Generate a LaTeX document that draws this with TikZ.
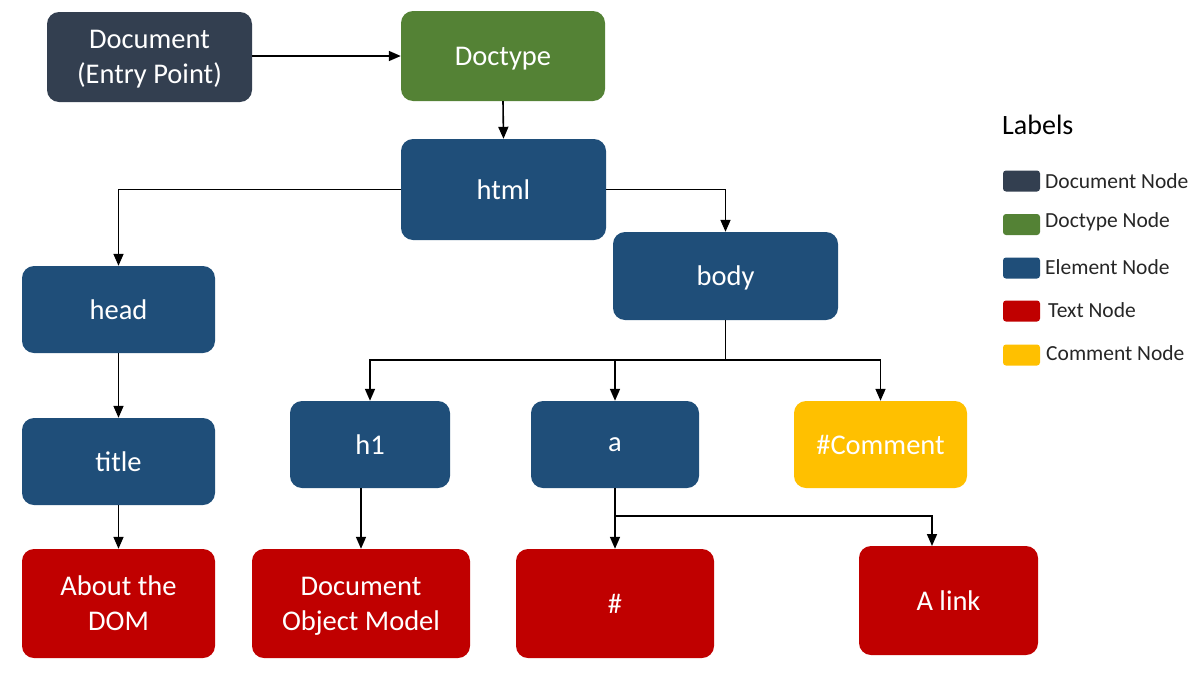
\documentclass[tikz,border=0pt]{standalone}
\usepackage{fontspec}
\setmainfont{Carlito}
\usetikzlibrary{arrows.meta}
\definecolor{cdoc}{HTML}{333F50}
\definecolor{cdoctype}{HTML}{548235}
\definecolor{celem}{HTML}{1F4E79}
\definecolor{ctext}{HTML}{C00000}
\definecolor{ccomm}{HTML}{FFC000}
\definecolor{clabel}{HTML}{262626}
\tikzset{
  box/.style={rounded corners=12pt, inner sep=0pt, text=white, align=center, text depth=0pt,
    font=\fontsize{28.5}{35}\selectfont},
  arr/.style={line width=1.6pt, -{Triangle[length=12pt,width=10pt]}},
  ln/.style={line width=1.6pt},
  swatch/.style={rounded corners=3pt, minimum width=37pt, minimum height=21pt, inner sep=0pt},
  legtext/.style={anchor=west, inner sep=0pt, text=clabel, font=\fontsize{21.5}{24}\selectfont},
}
\begin{document}
\begin{tikzpicture}[x=1pt,y=-1pt]
\useasboundingbox (0,0) rectangle (1200,675);
% boxes
\node[box, fill=cdoc, minimum width=205pt, minimum height=90pt] (doc) at (149.5,57) {Document\\(Entry Point)};
\node[box, fill=cdoctype, minimum width=204pt, minimum height=90pt] (doctype) at (503,56) {Doctype};
\node[box, fill=celem, minimum width=205pt, minimum height=101pt] (html) at (503.5,189.5) {html};
\node[box, fill=celem, minimum width=193pt, minimum height=87pt] (head) at (118.5,309.5) {head};
\node[box, fill=celem, minimum width=225pt, minimum height=88pt] (body) at (725.5,276) {body};
\node[box, fill=celem, minimum width=193pt, minimum height=87pt] (title) at (118.5,461.5) {title};
\node[box, fill=celem, minimum width=160pt, minimum height=87pt] (h1) at (370,444.5) {h1};
\node[box, fill=celem, minimum width=168pt, minimum height=87pt] (a) at (615,444.5) {a};
\node[box, fill=ccomm, minimum width=173pt, minimum height=87pt] (comm) at (880.5,444.5) {\#Comment};
\node[box, fill=ctext, minimum width=193pt, minimum height=109pt] (about) at (118.5,603.5) {About the\\DOM};
\node[box, fill=ctext, minimum width=218pt, minimum height=109pt] (dom) at (361,603.5) {Document\\Object Model};
\node[box, fill=ctext, minimum width=198pt, minimum height=109pt] (hash) at (615,603.5) {\#};
\node[box, fill=ctext, minimum width=179pt, minimum height=109pt] (alink) at (948.5,600.5) {A link};
% connectors
\draw[arr] (doc.east |- doctype.west) -- (doctype.west);
\draw[arr] (doctype.south) -- (html.north);
\draw[arr] (html.west) -| (head.north);
\draw[arr] (html.east) -| (body.north);
\draw[arr] (head.south) -- (title.north);
\draw[arr] (title.south) -- (about.north);
\coordinate (bj) at (725.5,360);
\draw[ln] (body.south) -- (bj);
\draw[arr] (bj) -| (h1.north);
\draw[arr] (bj) -| (a.north);
\draw[arr] (bj) -| (comm.north);
\draw[arr] (dom.north |- h1.south) -- (dom.north);
\draw[arr] (a.south) -- (hash.north);
\coordinate (aj) at (615,516);
\coordinate (alin) at (932,546);
\draw[arr] (aj) -| (alin);
% legend
\node[anchor=base west, inner sep=0pt, text=black, font=\fontsize{28}{32}\selectfont] (lab) at (1002,134) {Labels};
\node[swatch, fill=cdoc] (s1) at (1021.5,181) {};
\node[swatch, fill=cdoctype] (s2) at (1021.5,224.5) {};
\node[swatch, fill=celem] (s3) at (1021.5,268) {};
\node[swatch, fill=ctext] (s4) at (1021.5,311) {};
\node[swatch, fill=ccomm] (s5) at (1021.5,355) {};
\node[legtext] (t1) at (1045,181) {Document Node};
\node[legtext] (t2) at (1045,222) {Doctype Node};
\node[legtext] (t3) at (1045,267) {Element Node};
\node[legtext] (t4) at (1048,310) {Text Node};
\node[legtext] (t5) at (1046,353) {Comment Node};
\end{tikzpicture}
\end{document}
